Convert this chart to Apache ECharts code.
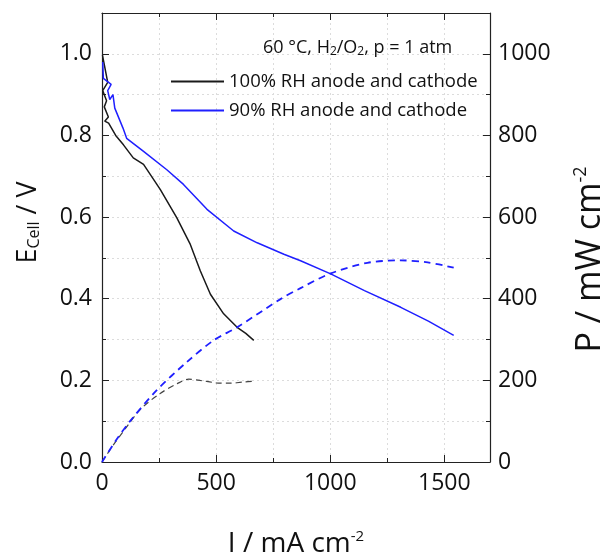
<!DOCTYPE html>
<html>
<head>
<meta charset="utf-8">
<script src="https://cdn.jsdelivr.net/npm/echarts@6/dist/echarts.min.js"></script>
<style>
html, body { margin: 0; padding: 0; background: #fff; }
#chart { width: 606px; height: 559px; }
</style>
</head>
<body>
<div id="chart"></div>
<script>
// I / mA cm-2 , E / V  (100% RH)
var ecell100 = [
    [2, 0.997], [6, 0.995], [25, 0.93], [3, 0.91], [20, 0.885], [10, 0.87],
    [28, 0.845], [12, 0.835], [29, 0.83], [60, 0.80], [94, 0.777], [137, 0.745],
    [182, 0.729], [255, 0.668], [328, 0.598], [387, 0.533], [431, 0.468],
    [475, 0.411], [533, 0.363], [592, 0.33], [630, 0.315], [665, 0.298]
];
// 90% RH
var ecell90 = [
    [3, 0.98], [6, 0.94], [40, 0.925], [25, 0.91], [34, 0.888], [48, 0.90],
    [56, 0.867], [92, 0.818], [108, 0.793], [182, 0.761], [284, 0.716],
    [357, 0.68], [460, 0.619], [577, 0.566], [680, 0.537], [797, 0.509],
    [870, 0.493], [1002, 0.461], [1150, 0.42], [1309, 0.379], [1430, 0.345],
    [1541, 0.31]
];
// P / mW cm-2
var power100 = [
    [0, 0], [50, 42], [100, 80], [170, 130], [255, 168], [330, 192],
    [380, 203], [430, 200], [500, 194], [560, 193], [620, 196], [665, 198]
];
var power90 = [
    [0, 0], [60, 52], [123, 100], [240, 176], [372, 245], [489, 298],
    [592, 330], [782, 399], [870, 426], [1002, 462], [1163, 488],
    [1309, 494], [1427, 489], [1541, 476]
];
var seriesNames = ['100% RH anode and cathode', '90% RH anode and cathode'];
var iTicks = [0, 500, 1000, 1500];
var eTicks = [0, 0.2, 0.4, 0.6, 0.8, 1.0];
var pTicks = [0, 200, 400, 600, 800, 1000];

var FONT = 'Open Sans';
var gridDot = { show: true, lineStyle: { color: '#dcdcdc', type: [2, 3], width: 1 } };
var frameLine = { show: true, onZero: false, lineStyle: { color: '#222', width: 1.2 } };
var inTick = { inside: true, length: 7, lineStyle: { color: '#222' } };
var inMinor = { show: true, splitNumber: 2, length: 4, lineStyle: { color: '#222' } };

var chart = echarts.init(document.getElementById('chart'));

var option = {
    animation: false,
    textStyle: { fontFamily: FONT, color: '#111' },
    grid: { left: 102, right: 116, top: 13, bottom: 97, outerBoundsMode: 'none', containLabel: false },
    title: {
        text: '60 °C, H{sub|2}/O{sub|2}, p = 1 atm',
        left: 258, top: 32,
        textStyle: {
            fontFamily: FONT, fontSize: 18, fontWeight: 'normal', color: '#111',
            rich: { sub: { fontFamily: FONT, fontSize: 12, color: '#111', padding: [9, 0, 0, 0] } }
        }
    },
    legend: {
        data: seriesNames,
        orient: 'vertical',
        left: 166, top: 67,
        itemWidth: 53, itemHeight: 2, itemGap: 10,
        icon: 'rect',
        textStyle: { fontFamily: FONT, fontSize: 18.5, color: '#111' }
    },
    xAxis: [{
        type: 'value', min: 0, max: 1700, interval: 500,
        name: 'I / mA cm{sup|-2}', nameLocation: 'middle', nameGap: 67,
        nameTextStyle: {
            fontFamily: FONT, fontSize: 28, color: '#111',
            rich: { sup: { fontFamily: FONT, fontSize: 15, color: '#111', padding: [0, 0, 16, 0] } }
        },
        axisLine: frameLine,
        axisTick: inTick,
        minorTick: inMinor,
        axisLabel: {
            fontSize: 23, color: '#111', margin: 10, showMaxLabel: false,
            formatter: function (v) { return iTicks.indexOf(v) >= 0 ? String(v) : ''; }
        },
        splitLine: gridDot,
        minorSplitLine: gridDot
    }, {
        type: 'value', min: 0, max: 1700, interval: 500, position: 'top',
        axisLine: frameLine,
        axisTick: inTick,
        minorTick: inMinor,
        axisLabel: { show: false },
        splitLine: { show: false }
    }],
    yAxis: [{
        type: 'value', min: 0, max: 1.1, interval: 0.2,
        name: 'E{sub|Cell} / V', nameLocation: 'middle', nameGap: 60,
        nameTextStyle: {
            fontFamily: FONT, fontSize: 27, color: '#111', padding: [0, 0, 0, 30],
            rich: { sub: { fontFamily: FONT, fontSize: 16, color: '#111', padding: [12, 0, 0, 0] } }
        },
        axisLine: frameLine,
        axisTick: inTick,
        minorTick: inMinor,
        axisLabel: {
            fontSize: 23, color: '#111', margin: 10, showMaxLabel: false,
            formatter: function (v) { return eTicks.indexOf(+v.toFixed(1)) >= 0 ? v.toFixed(1) : ''; }
        },
        splitLine: gridDot,
        minorSplitLine: gridDot
    }, {
        type: 'value', min: 0, max: 1100, interval: 200, position: 'right',
        name: 'P / mW cm{sup|-2}', nameLocation: 'middle', nameGap: 82,
        nameTextStyle: {
            fontFamily: FONT, fontSize: 34, color: '#111', padding: [0, 44, 0, 0],
            rich: { sup: { fontFamily: FONT, fontSize: 18, color: '#111', padding: [0, 0, 18, 0] } }
        },
        axisLine: frameLine,
        axisTick: inTick,
        minorTick: inMinor,
        axisLabel: {
            fontSize: 23, color: '#111', margin: 8, showMaxLabel: false,
            formatter: function (v) { return pTicks.indexOf(v) >= 0 ? String(v) : ''; }
        },
        splitLine: { show: false }
    }],
    series: [{
        name: seriesNames[0], type: 'line', data: ecell100,
        xAxisIndex: 0, yAxisIndex: 0, showSymbol: false, symbol: 'none',
        color: '#1a1a1a', lineStyle: { color: '#1a1a1a', width: 1.5 }
    }, {
        name: seriesNames[1], type: 'line', data: ecell90,
        xAxisIndex: 0, yAxisIndex: 0, showSymbol: false, symbol: 'none',
        color: '#1f1fff', lineStyle: { color: '#1f1fff', width: 1.5 }
    }, {
        name: 'P 100', type: 'line', data: power100, smooth: 0.3,
        xAxisIndex: 0, yAxisIndex: 1, showSymbol: false, symbol: 'none',
        lineStyle: { color: '#444', width: 1.2, type: [6, 4] }
    }, {
        name: 'P 90', type: 'line', data: power90, smooth: 0.3,
        xAxisIndex: 0, yAxisIndex: 1, showSymbol: false, symbol: 'none',
        lineStyle: { color: '#1f1fff', width: 1.8, type: [7, 5] }
    }]
};

chart.setOption(option);
</script>
</body>
</html>
